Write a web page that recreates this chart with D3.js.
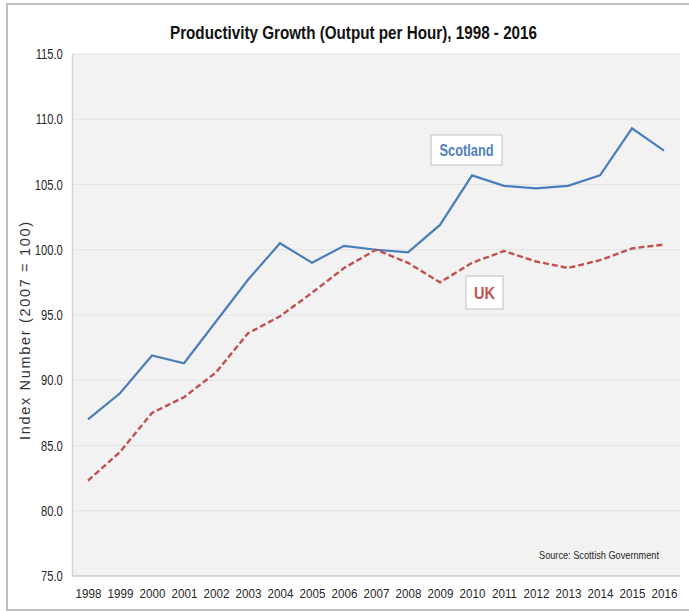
<!DOCTYPE html>
<html>
<head>
<meta charset="utf-8">
<script src="https://cdn.jsdelivr.net/npm/d3@7"></script>
<style>
  body { margin: 0; background: #fff; }
  svg { display: block; }
</style>
</head>
<body>
<svg></svg>
<script>
// data
var years = ["1998","1999","2000","2001","2002","2003","2004","2005","2006","2007",
             "2008","2009","2010","2011","2012","2013","2014","2015","2016"];
var scotland = [87.0, 89.0, 91.9, 91.3, 94.5, 97.7, 100.5, 99.0, 100.3, 100.0,
                99.8, 101.9, 105.7, 104.9, 104.7, 104.9, 105.7, 109.3, 107.6];
var uk = [82.3, 84.5, 87.5, 88.7, 90.6, 93.6, 94.9, 96.7, 98.6, 100.0,
          99.0, 97.5, 99.0, 99.9, 99.1, 98.6, 99.2, 100.1, 100.4];
var yTicks = [75, 80, 85, 90, 95, 100, 105, 110, 115];

var width = 689, height = 611;
var margin = {top: 54, right: 9, bottom: 35, left: 72};
var font = '"Liberation Sans",Arial,sans-serif';

var svg = d3.select('svg')
            .attr('width', width)
            .attr('height', height);

// outer frame (right edge falls outside the picture)
svg.append('rect')
   .attr('x', 7).attr('y', 4)
   .attr('width', 690).attr('height', 606)
   .attr('fill', 'none')
   .attr('stroke', '#bfbfbf')
   .attr('stroke-width', 2);

var xScale = d3.scalePoint()
               .domain(years)
               .range([margin.left, width - margin.right])
               .padding(0.5);

var yScale = d3.scaleLinear()
               .domain([75, 115])
               .range([height - margin.bottom, margin.top]);

// plot background
svg.append('rect')
   .attr('x', margin.left)
   .attr('y', margin.top)
   .attr('width', width - margin.right - margin.left)
   .attr('height', height - margin.bottom - margin.top)
   .attr('fill', '#f2f2f2');

// gridlines
svg.append('g')
   .selectAll('line')
   .data(yTicks.slice(1))
   .enter()
     .append('line')
     .attr('x1', margin.left)
     .attr('x2', width - margin.right)
     .attr('y1', d => yScale(d))
     .attr('y2', d => yScale(d))
     .attr('stroke', '#e2e2e2')
     .attr('stroke-width', 1);

var xAxis = svg.append('g')
   .attr('transform', `translate(0,${height - margin.bottom})`)
   .call(d3.axisBottom(xScale).tickSize(0).tickPadding(12));
xAxis.select('.domain').attr('stroke', '#c8c8c8').attr('stroke-width', 1.5)
     .attr('d', `M${margin.left},0H${width - margin.right}`);
xAxis.selectAll('text')
     .style('font-family', font)
     .style('font-size', '13.5px')
     .attr('transform', 'scale(0.86,1)')
     .attr('fill', '#262626');

var yAxis = svg.append('g')
   .attr('transform', `translate(${margin.left},0)`)
   .call(d3.axisLeft(yScale).tickValues(yTicks).tickFormat(d3.format('.1f')).tickSize(0).tickPadding(12));
yAxis.select('.domain').attr('stroke', '#d4d4d4').attr('stroke-width', 1.5);
yAxis.selectAll('text')
     .style('font-family', font)
     .style('font-size', '14.5px')
     .attr('transform', 'scale(0.77,1)')
     .attr('fill', '#262626');

// title
svg.append('text')
   .attr('x', 170)
   .attr('y', 39)
   .attr('textLength', 367)
   .attr('lengthAdjust', 'spacingAndGlyphs')
   .style('font-family', font)
   .style('font-size', '18px')
   .style('font-weight', 'bold')
   .attr('fill', '#111')
   .text('Productivity Growth (Output per Hour), 1998 - 2016');

// y axis title
svg.append('text')
   .attr('transform', 'translate(30,440) rotate(-90)')
   .attr('textLength', 218)
   .attr('lengthAdjust', 'spacing')
   .style('font-family', font)
   .style('font-size', '14.5px')
   .attr('fill', '#333')
   .text('Index Number (2007 = 100)');

var line = d3.line()
             .x((d, i) => xScale(years[i]))
             .y(d => yScale(d));

svg.append('path')
   .datum(scotland)
   .attr('d', line)
   .attr('fill', 'none')
   .attr('stroke', '#4a7ebb')
   .attr('stroke-width', 2.2);

svg.append('path')
   .datum(uk)
   .attr('d', line)
   .attr('fill', 'none')
   .attr('stroke', '#c0504d')
   .attr('stroke-width', 2.4)
   .attr('stroke-dasharray', '6,3');

// series labels
function seriesLabel(txt, x, y, w, h, tw, color) {
  svg.append('rect')
     .attr('x', x).attr('y', y)
     .attr('width', w).attr('height', h)
     .attr('fill', '#fff')
     .attr('stroke', '#c8c8c8')
     .attr('stroke-width', 1.2);
  svg.append('text')
     .attr('x', x + (w - tw) / 2)
     .attr('y', y + h / 2 + 6)
     .attr('textLength', tw)
     .attr('lengthAdjust', 'spacingAndGlyphs')
     .style('font-family', font)
     .style('font-size', '16px')
     .style('font-weight', 'bold')
     .attr('fill', color)
     .text(txt);
}
seriesLabel('Scotland', 431, 135, 71, 30, 54, '#4f81bd');
seriesLabel('UK', 466, 276, 37, 33, 21, '#c0504d');

// source note
svg.append('text')
   .attr('x', 539)
   .attr('y', 559)
   .attr('textLength', 120)
   .attr('lengthAdjust', 'spacingAndGlyphs')
   .style('font-family', font)
   .style('font-size', '11.5px')
   .attr('fill', '#262626')
   .text('Source: Scottish Government');
</script>
</body>
</html>
